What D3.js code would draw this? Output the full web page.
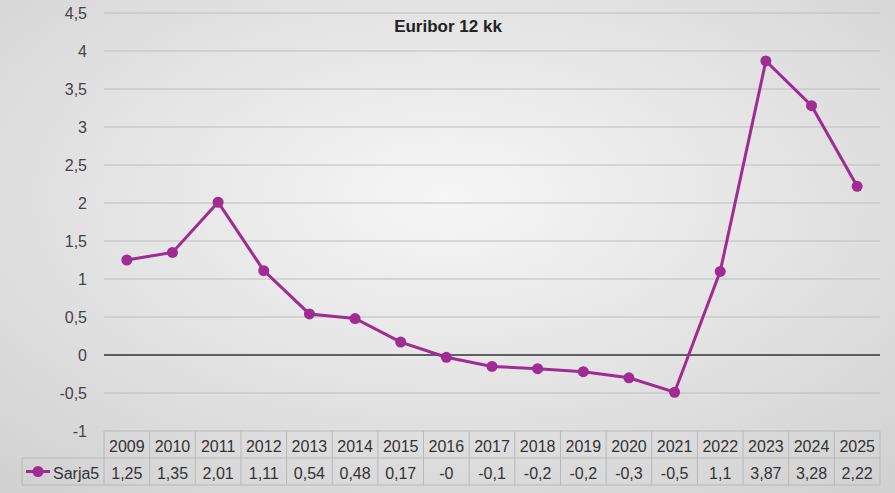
<!DOCTYPE html>
<html><head><meta charset="utf-8">
<script src="https://cdn.jsdelivr.net/npm/d3@7"></script>
<style>body{margin:0}svg{display:block;font-family:"Liberation Sans",Arial,sans-serif}</style>
</head><body><svg id="c" width="895" height="493"></svg>
<script>
const years=["2009","2010","2011","2012","2013","2014","2015","2016","2017","2018","2019","2020","2021","2022","2023","2024","2025"];
const values=[1.25,1.35,2.01,1.11,0.54,0.48,0.17,-0.03,-0.15,-0.18,-0.22,-0.30,-0.49,1.1,3.87,3.28,2.22];
const tableLabels=["1,25","1,35","2,01","1,11","0,54","0,48","0,17","-0","-0,1","-0,2","-0,2","-0,3","-0,5","1,1","3,87","3,28","2,22"];
const yTicks=[-1,-0.5,0,0.5,1,1.5,2,2.5,3,3.5,4,4.5];
const seriesName="Sarja5", title="Euribor 12 kk", color="#A02B93";

const svg=d3.select("#c");
const defs=svg.append("defs");
const g=defs.append("radialGradient").attr("id","bg").attr("cx","50%").attr("cy","40%").attr("r","75%");
g.append("stop").attr("offset","0%").attr("stop-color","#f6f6f6");
g.append("stop").attr("offset","100%").attr("stop-color","#d2d2d2");
svg.append("rect").attr("width",895).attr("height",493).attr("fill","url(#bg)");

const L=104,R=880,T=13,B=431;
const x=d3.scaleBand().domain(years).range([L,R]);
const y=d3.scaleLinear().domain([-1,4.5]).range([B,T]);
const fmt=v=>String(v).replace(".",",");

svg.append("g").selectAll("line").data(yTicks.filter(v=>v!==0&&v!==-1)).join("line")
 .attr("x1",L).attr("x2",R).attr("y1",d=>y(d)).attr("y2",d=>y(d)).attr("stroke","#bdbdbd");
svg.append("line").attr("x1",L).attr("x2",R).attr("y1",y(0)).attr("y2",y(0)).attr("stroke","#333").attr("stroke-width",1.5);
svg.append("g").selectAll("text").data(yTicks).join("text")
 .attr("x",87).attr("y",d=>y(d)+6).attr("text-anchor","end").attr("font-size",16).attr("fill","#444").text(fmt);

svg.append("text").attr("x",448).attr("y",32).attr("text-anchor","middle").attr("font-size",17).attr("font-weight","bold").attr("fill","#222").text(title);

const cx=d=>x(d)+x.bandwidth()/2;
svg.append("path").datum(values).attr("fill","none").attr("stroke",color).attr("stroke-width",3)
 .attr("d",d3.line().x((d,i)=>cx(years[i])).y(d=>y(d)));
svg.append("g").selectAll("circle").data(values).join("circle")
 .attr("cx",(d,i)=>cx(years[i])).attr("cy",d=>y(d)).attr("r",5.5).attr("fill",color);

// table
const r1=431,r2=458,r3=485,tL=22;
const tg=svg.append("g").attr("stroke","#b8b8b8").attr("fill","none");
tg.append("line").attr("x1",L).attr("x2",R).attr("y1",r1).attr("y2",r1);
tg.append("line").attr("x1",tL).attr("x2",R).attr("y1",r2).attr("y2",r2);
tg.append("line").attr("x1",tL).attr("x2",R).attr("y1",r3).attr("y2",r3);
tg.append("line").attr("x1",tL).attr("x2",tL).attr("y1",r2).attr("y2",r3);
tg.selectAll(".v").data(years.concat(["end"])).join("line")
 .attr("x1",(d,i)=>L+i*x.bandwidth()).attr("x2",(d,i)=>L+i*x.bandwidth()).attr("y1",r1).attr("y2",r3);
svg.append("g").selectAll("text").data(years).join("text").attr("x",cx).attr("y",r1+21)
 .attr("text-anchor","middle").attr("font-size",16).attr("fill","#333").text(d=>d);
svg.append("g").selectAll("text").data(tableLabels).join("text").attr("x",(d,i)=>cx(years[i])).attr("y",r2+21)
 .attr("text-anchor","middle").attr("font-size",16).attr("fill","#333").text(d=>d);
svg.append("line").attr("x1",26).attr("x2",50).attr("y1",r2+13.5).attr("y2",r2+13.5).attr("stroke",color).attr("stroke-width",3);
svg.append("circle").attr("cx",38).attr("cy",r2+13.5).attr("r",5.5).attr("fill",color);
svg.append("text").attr("x",53).attr("y",r2+21).attr("font-size",16).attr("fill","#333").text(seriesName);
</script></body></html>
